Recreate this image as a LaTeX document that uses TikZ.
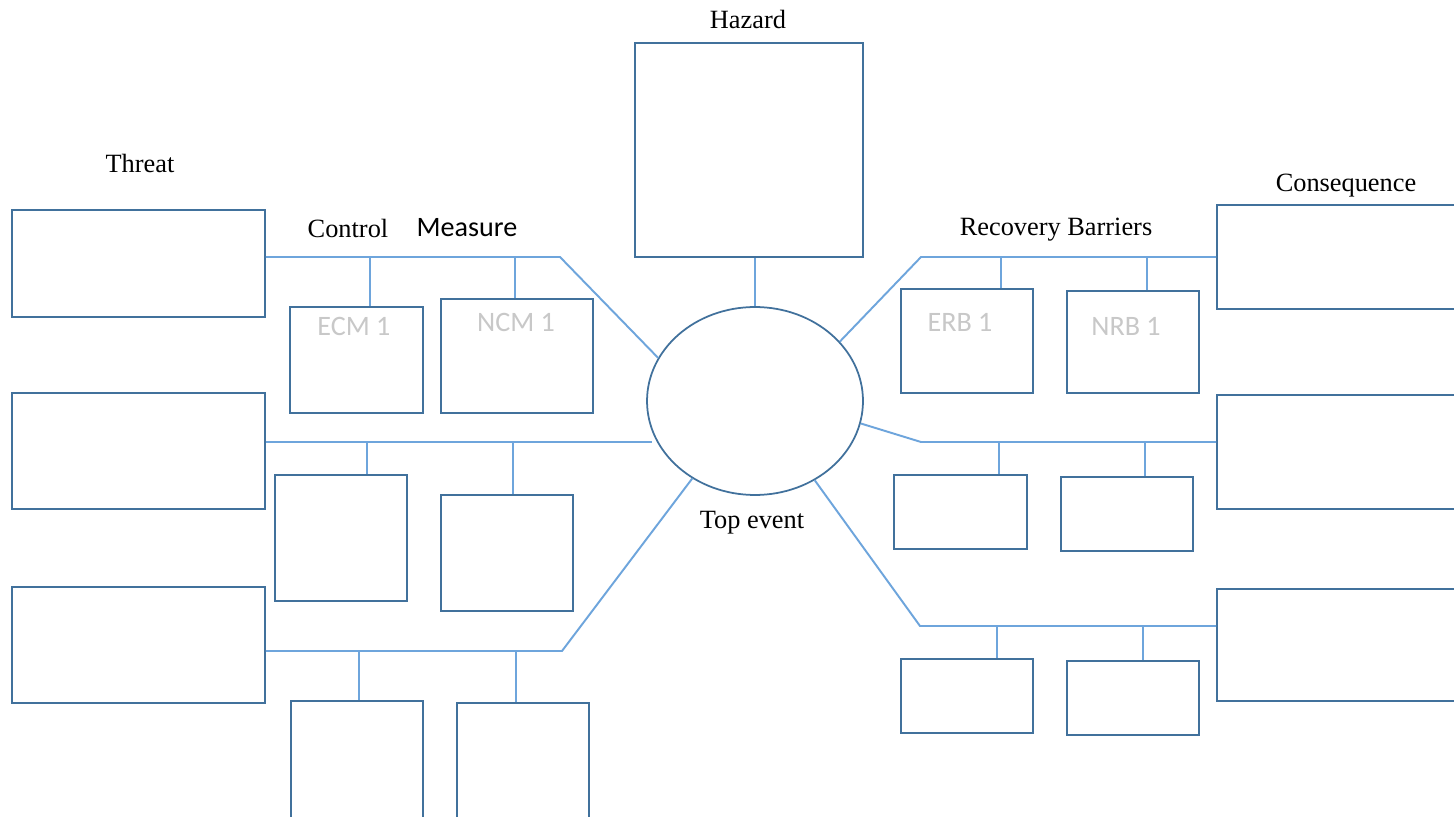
\documentclass[tikz,border=0pt]{standalone}
\usepackage{fontspec}
\setmainfont{Liberation Serif}
\newfontfamily\calib{Carlito}
\usetikzlibrary{shapes.geometric,fit}
\definecolor{boxc}{RGB}{65,113,156}
\definecolor{linec}{RGB}{110,165,220}
\definecolor{greyt}{RGB}{200,200,200}
\begin{document}
\begin{tikzpicture}[x=0.02cm,y=-0.02cm,
 box/.style={draw=boxc, line width=1.1pt, inner sep=0pt},
 conn/.style={draw=linec, line width=1.1pt},
 lab/.style={font=\fontsize{15}{18}\selectfont, inner sep=0pt},
 slab/.style={font=\calib\fontsize{16}{19}\selectfont, inner sep=0pt},
 glab/.style={font=\calib\fontsize{16}{19}\selectfont, text=greyt, inner sep=0pt}]
\useasboundingbox (0,0) rectangle (1454,817);
\clip (0,0) rectangle (1454,817);
\fill[white] (0,0) rectangle (1454,817);

% threats
\node[box, fit={(12,210) (265,317)}] (t1) {};
\node[box, fit={(12,393) (265,509)}] (t2) {};
\node[box, fit={(12,587) (265,703)}] (t3) {};
% control measures
\node[box, fit={(290,307) (423,413)}] (ecm1) {};
\node[box, fit={(441,299) (593,413)}] (ncm1) {};
\node[box, fit={(275,475) (407,601)}] (ecm2) {};
\node[box, fit={(441,495) (573,611)}] (ncm2) {};
\node[box, fit={(291,701) (423,840)}] (ecm3) {};
\node[box, fit={(457,703) (589,840)}] (ncm3) {};
% hazard and top event
\node[box, fit={(635,43) (863,257)}] (hz) {};
\node[draw=boxc, line width=1pt, ellipse, inner sep=0pt, minimum width=4.32cm, minimum height=3.76cm] (te) at (755,401) {};
% recovery barriers
\node[box, fit={(901,289) (1033,393)}] (erb1) {};
\node[box, fit={(1067,291) (1199,393)}] (nrb1) {};
\node[box, fit={(894,475) (1027,549)}] (erb2) {};
\node[box, fit={(1061,477) (1193,551)}] (nrb2) {};
\node[box, fit={(901,659) (1033,733)}] (erb3) {};
\node[box, fit={(1067,661) (1199,735)}] (nrb3) {};
% consequences
\node[box, fit={(1217,205) (1480,309)}] (c1) {};
\node[box, fit={(1217,395) (1480,509)}] (c2) {};
\node[box, fit={(1217,589) (1480,701)}] (c3) {};

% labels
\node[lab] (lthreat) at (140,163) {Threat};
\node[lab] (lcontrol) at (348,228) {Control};
\node[slab] (lmeasure) at (467,228) {Measure};
\node[lab] (lhazard) at (748,19) {Hazard};
\node[lab] (ltop) at (752,523) {Top event};
\node[lab] (lrec) at (1056,230) {Recovery Barriers};
\node[lab] (lcons) at (1346,186) {Consequence};
\node[glab] (tecm) at (354,326) {ECM 1};
\node[glab] (tncm) at (516,322) {NCM 1};
\node[glab] (terb) at (960,322) {ERB 1};
\node[glab] (tnrb) at (1126,326) {NRB 1};

% coordinates
\coordinate (bl1) at (560,257);
\coordinate (dl1a) at (370,257);
\coordinate (dl1b) at (515,257);
\coordinate (el2) at (652,442);
\coordinate (dl2a) at (367,442);
\coordinate (dl2b) at (513,442);
\coordinate (bl3) at (562,651);
\coordinate (dl3a) at (359,651);
\coordinate (dl3b) at (516,651);
\coordinate (br1) at (921,257);
\coordinate (dr1a) at (1001,257);
\coordinate (dr1b) at (1147,257);
\coordinate (br2) at (921,442);
\coordinate (dr2a) at (999,442);
\coordinate (dr2b) at (1145,442);
\coordinate (br3) at (920,626);
\coordinate (dr3a) at (997,626);
\coordinate (dr3b) at (1143,626);

% connectors left
\draw[conn] (t1.east |- bl1) -- (bl1) -- (te.156);
\draw[conn] (dl1a) -- (dl1a |- ecm1.north);
\draw[conn] (dl1b) -- (dl1b |- ncm1.north);
\draw[conn] (t2.east |- el2) -- (el2);
\draw[conn] (dl2a) -- (dl2a |- ecm2.north);
\draw[conn] (dl2b) -- (dl2b |- ncm2.north);
\draw[conn] (t3.east |- bl3) -- (bl3) -- (te.231);
\draw[conn] (dl3a) -- (dl3a |- ecm3.north);
\draw[conn] (dl3b) -- (dl3b |- ncm3.north);
% hazard
\draw[conn] (hz.south -| te.north) -- (te.north);
% connectors right
\draw[conn] (te.35) -- (br1) -- (c1.west |- br1);
\draw[conn] (dr1a) -- (dr1a |- erb1.north);
\draw[conn] (dr1b) -- (dr1b |- nrb1.north);
\draw[conn] (te.-12) -- (br2) -- (c2.west |- br2);
\draw[conn] (dr2a) -- (dr2a |- erb2.north);
\draw[conn] (dr2b) -- (dr2b |- nrb2.north);
\draw[conn] (te.-53) -- (br3) -- (c3.west |- br3);
\draw[conn] (dr3a) -- (dr3a |- erb3.north);
\draw[conn] (dr3b) -- (dr3b |- nrb3.north);
\end{tikzpicture}
\end{document}
